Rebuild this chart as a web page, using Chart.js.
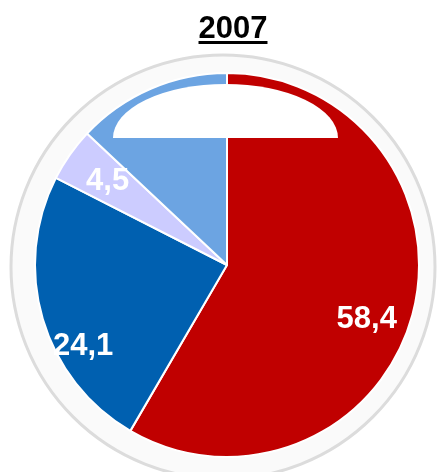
<!DOCTYPE html>
<html>
<head>
<meta charset="utf-8">
<script src="https://cdn.jsdelivr.net/npm/chart.js@4/dist/chart.umd.min.js"></script>
<style>
	html, body { margin: 0; padding: 0; background: #fff; }
	#wrap { width: 441px; height: 472px; }
</style>
</head>
<body>
<div id="wrap"><canvas id="pie"></canvas></div>
<script>
var chartTitle = '2007';
var labels = ['A', 'B', 'C', 'D'];
var values = [58.4, 24.1, 4.5, 13.0];
var valueText = ['58,4', '24,1', '4,5', '13,0'];
var colors = ['#C00000', '#0060B0', '#CCCCFF', '#6CA4E2'];

// label placement tweaks (degrees shift from mid angle, fraction of radius)
var labelShift = [6, -13, 0, 0];
var labelDist = [0.78, 0.86, 0.76, 0.8];

var ringPlugin = {
	id: 'ring',
	beforeDatasetsDraw: function (chart) {
		var arc = chart.getDatasetMeta(0).data[0],
			ctx = chart.ctx;
		ctx.save();
		ctx.beginPath();
		ctx.arc(arc.x - 4, arc.y + 2, arc.outerRadius + 20, 0, Math.PI * 2);
		ctx.fillStyle = '#fafafa';
		ctx.fill();
		ctx.lineWidth = 3;
		ctx.strokeStyle = '#dcdcdc';
		ctx.stroke();
		ctx.restore();
	}
};

var labelPlugin = {
	id: 'valueLabels',
	afterDatasetsDraw: function (chart) {
		var ctx = chart.ctx,
			arcs = chart.getDatasetMeta(0).data;
		ctx.save();
		ctx.font = 'bold 31px "Liberation Sans", Arial, sans-serif';
		ctx.fillStyle = '#fff';
		ctx.textAlign = 'center';
		ctx.textBaseline = 'middle';
		for (var i = 0; i < arcs.length; i++) {
			var a = arcs[i],
				mid = (a.startAngle + a.endAngle) / 2 + labelShift[i] * Math.PI / 180,
				r = a.outerRadius * labelDist[i];
			ctx.fillText(valueText[i], a.x + Math.cos(mid) * r, a.y + Math.sin(mid) * r);
		}

		// white cap over the top of the pie
		var c = arcs[0];
		var cx = c.x - 1.5, by = c.y - 127, rx = 112.5, ry = 54;
		ctx.beginPath();
		ctx.moveTo(cx - rx, by);
		ctx.ellipse(cx, by, rx, ry, 0, Math.PI, Math.PI * 2);
		ctx.closePath();
		ctx.fillStyle = '#ffffff';
		ctx.fill();
		ctx.restore();
	},
	afterDraw: function (chart) {
		var ctx = chart.ctx;
		ctx.save();
		ctx.font = 'bold 31px "Liberation Sans", Arial, sans-serif';
		ctx.fillStyle = '#000';
		ctx.textAlign = 'center';
		ctx.textBaseline = 'alphabetic';
		ctx.fillText(chartTitle, 233, 38);
		var w = ctx.measureText(chartTitle).width;
		ctx.fillRect(233 - w / 2, 41, w, 3);
		ctx.restore();
	}
};

new Chart(document.getElementById('pie').getContext('2d'), {
	type: 'pie',
	data: {
		labels: labels,
		datasets: [
			{
				data: values,
				backgroundColor: colors,
				borderColor: '#fff',
				borderWidth: 2
			}
		]
	},
	options: {
		responsive: true,
		maintainAspectRatio: false,
		animation: false,
		layout: { padding: { left: 34, right: 21, top: 72, bottom: 14 } },
		plugins: {
			legend: { display: false },
			tooltip: { enabled: false },
			title: { display: false }
		}
	},
	plugins: [ringPlugin, labelPlugin]
});
</script>
</body>
</html>
